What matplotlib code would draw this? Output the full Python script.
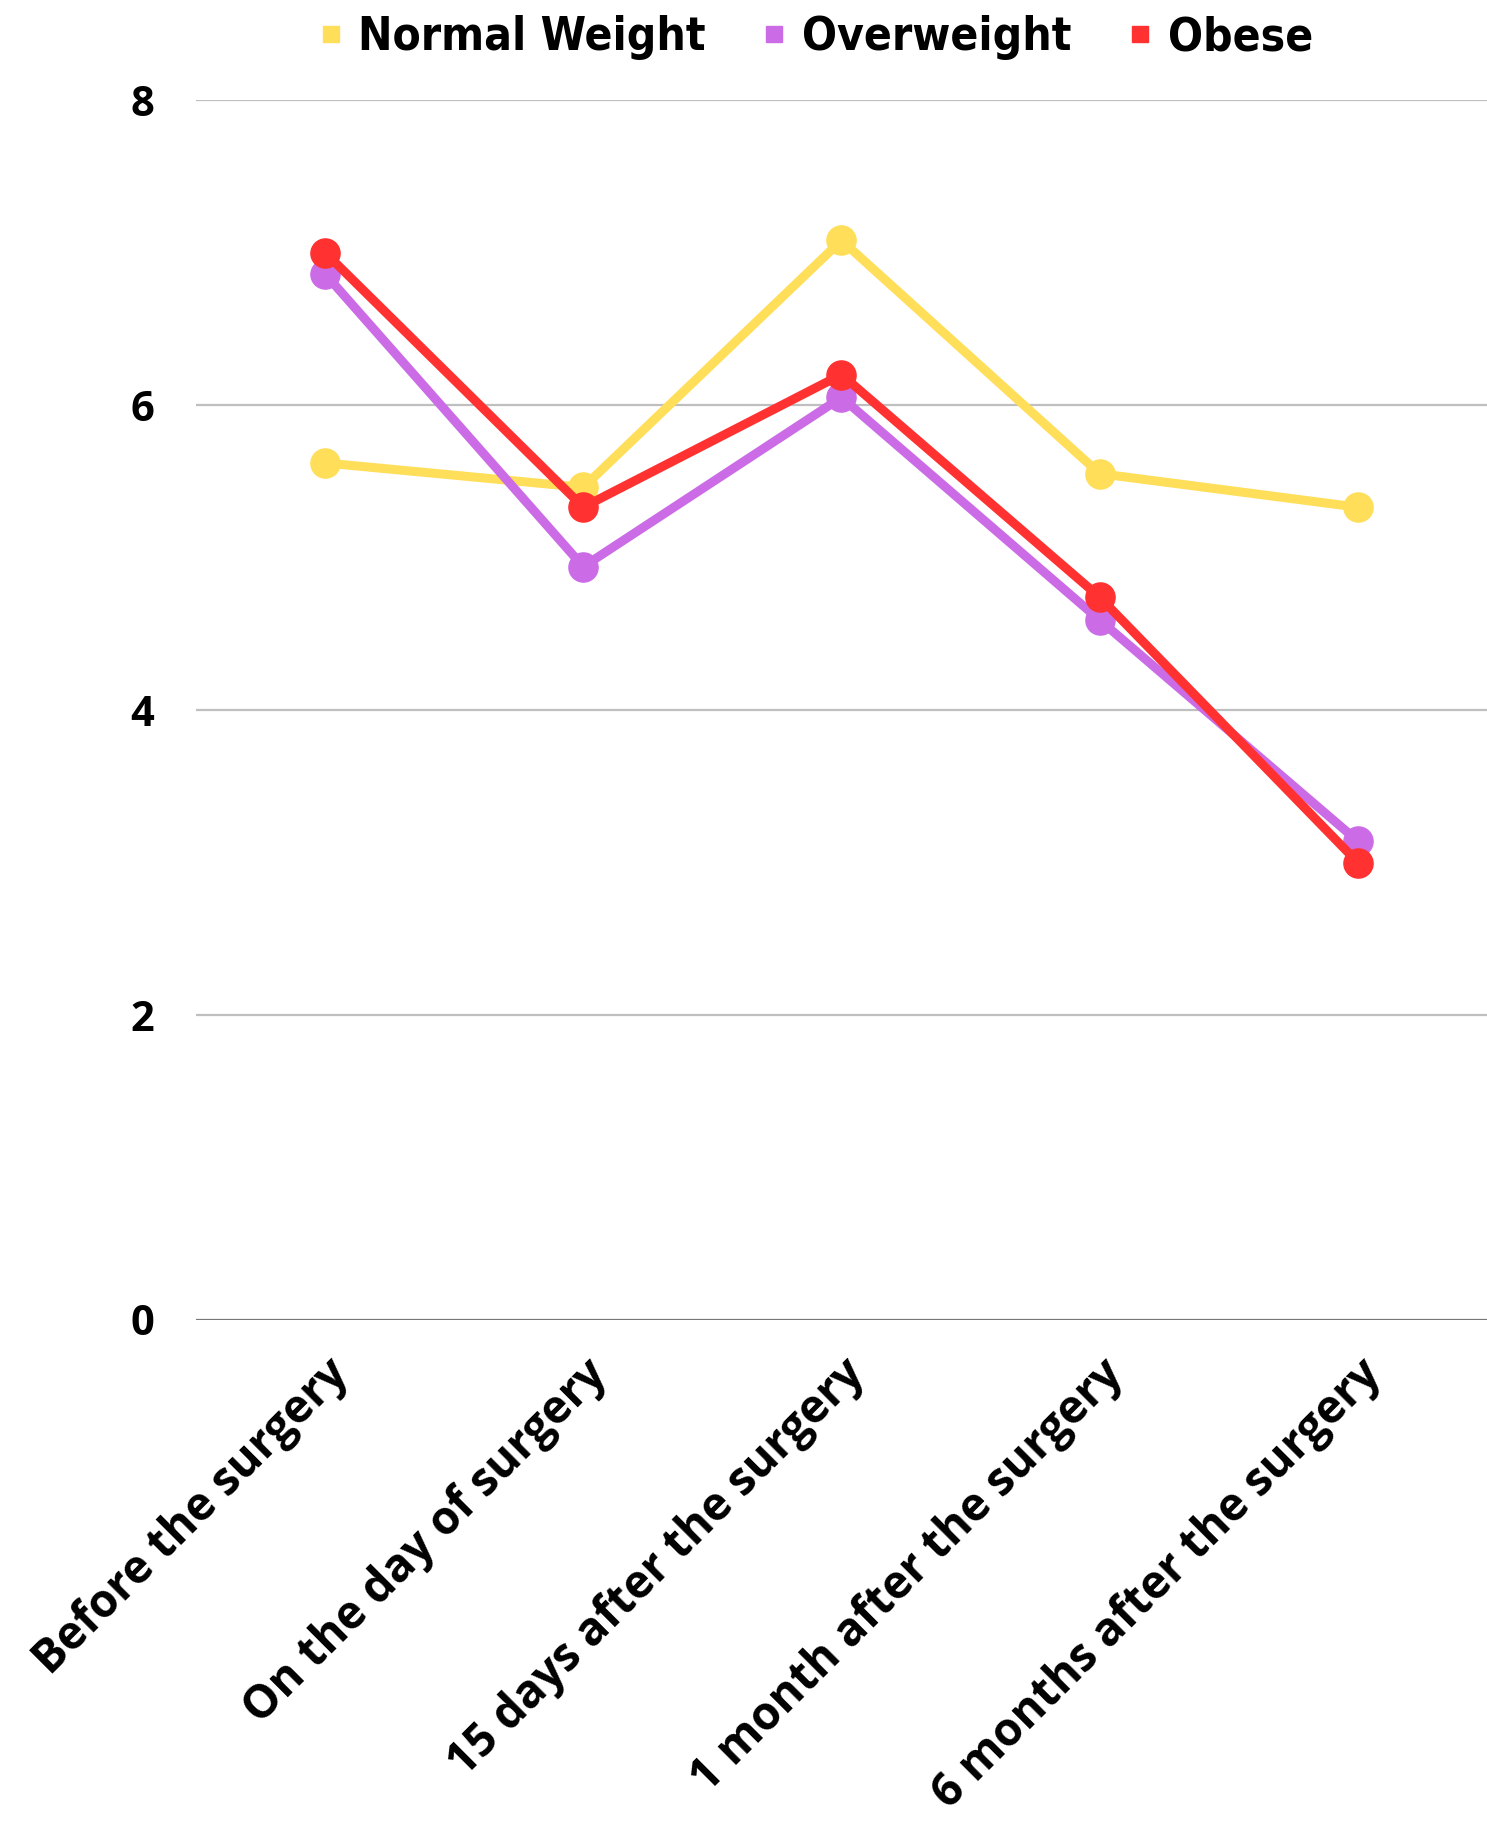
import numpy as np
import matplotlib
matplotlib.use('Agg')
from matplotlib import pyplot as plt
from matplotlib.lines import Line2D

#%% DATA

CATEGORIES = ['Before the surgery', 'On the day of surgery',
              '15 days after the surgery', '1 month after the surgery',
              '6 months after the surgery']

NORMAL_WEIGHT = [5.62, 5.46, 7.08, 5.55, 5.33]
OVERWEIGHT = [6.86, 4.94, 6.05, 4.59, 3.14]
OBESE = [7.00, 5.33, 6.20, 4.74, 3.00]

SERIES_NAMES = ['Normal Weight', 'Overweight', 'Obese']
COLORS = ['#FFDE59', '#CB6CE6', '#FF3131']

Y_TICKS = [0, 2, 4, 6, 8]

#%% PLOT

fig = plt.figure(figsize=(14.87, 18.29), dpi=100)
ax = fig.add_axes([0.1318, 0.2783, 0.8682, 0.6670])

x = np.arange(len(CATEGORIES))
for values, color in zip([NORMAL_WEIGHT, OVERWEIGHT, OBESE], COLORS):
    ax.plot(x, values, color=color, lw=6.5, marker='o', markersize=21,
            solid_capstyle='round', zorder=3)

ax.set_xlim(-0.5, len(CATEGORIES) - 0.5)
ax.set_ylim(0, 8)
ax.set_yticks(Y_TICKS)
ax.set_yticklabels([str(t) for t in Y_TICKS], fontsize=30,
                   fontweight='bold', family='Open Sans')

# horizontal grid, baseline a bit darker
for t in Y_TICKS:
    ax.axhline(t, color='#777777' if t == 0 else '#BFBFBF',
               lw=1.6, zorder=1)

ax.set_xticks(x)
ax.set_xticklabels(CATEGORIES, rotation=45, ha='right',
                   rotation_mode='anchor', fontsize=33,
                   fontweight='bold', family='Open Sans')

ax.tick_params(axis='both', length=0)
ax.tick_params(axis='y', pad=30)
ax.tick_params(axis='x', pad=22)
for side in ax.spines:
    ax.spines[side].set_visible(False)

handles = [Line2D([], [], color=c, marker='s', linestyle='none',
                  markersize=11) for c in COLORS]
fig.legend(handles, SERIES_NAMES, loc='center', ncol=3, frameon=False,
           bbox_to_anchor=(0.548, 1 - 38 / 1829),
           prop={'family': 'DejaVu Sans', 'stretch': 'condensed',
                 'weight': 'bold', 'size': 33},
           handlelength=0.6, handletextpad=0.3, columnspacing=1.2)

fig.savefig('out.png', dpi=100, facecolor='white')
